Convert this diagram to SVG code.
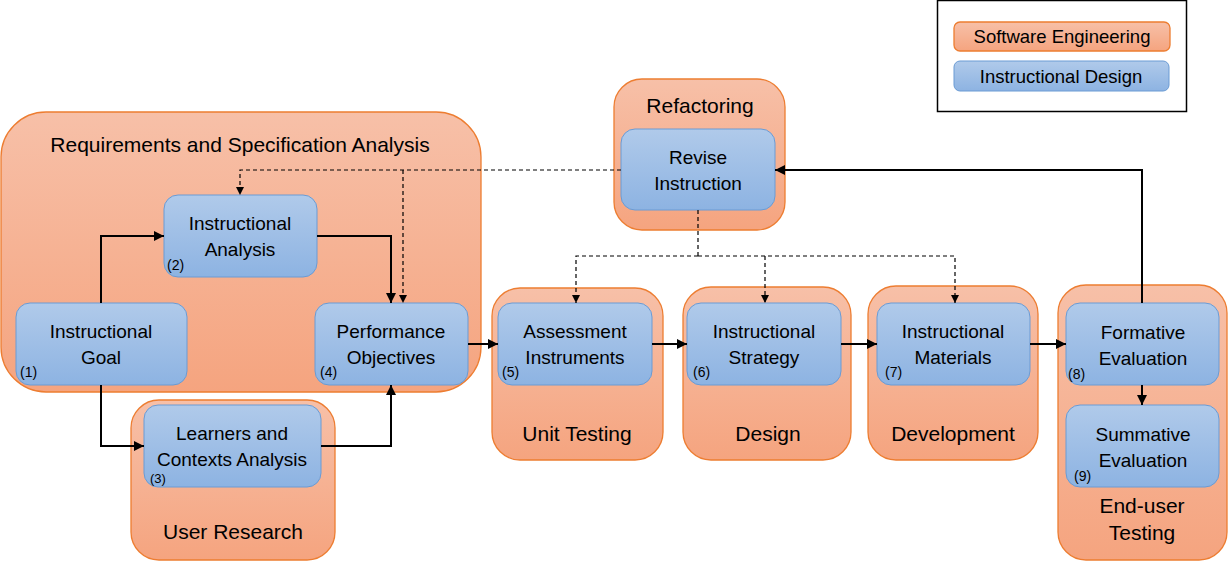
<svg xmlns="http://www.w3.org/2000/svg" width="1229" height="561" viewBox="0 0 1229 561">
<defs>
<linearGradient id="og" x1="0" y1="0" x2="0" y2="1"><stop offset="0" stop-color="#F7C0A8"/><stop offset="1" stop-color="#F5A47F"/></linearGradient>
<linearGradient id="bg" x1="0" y1="0" x2="0" y2="1"><stop offset="0" stop-color="#B0CAEA"/><stop offset="1" stop-color="#8DB3E2"/></linearGradient>
<marker id="ah" viewBox="0 0 10 10" refX="10" refY="5" markerWidth="10" markerHeight="10" markerUnits="userSpaceOnUse" orient="auto"><path d="M0,0 L10,5 L0,10 z" fill="#000"/></marker>
<marker id="ahs" viewBox="0 0 10 10" refX="10" refY="5" markerWidth="8" markerHeight="8" markerUnits="userSpaceOnUse" orient="auto"><path d="M0,0 L10,5 L0,10 z" fill="#000"/></marker>
</defs>
<style>
.grp{fill:url(#og);stroke:#ED7D31;stroke-width:1.3}
.nd{fill:url(#bg);stroke:#6A9BD4;stroke-width:1}
text{font-family:"Liberation Sans",Arial,sans-serif;fill:#000}
.t{font-size:19px;text-anchor:middle}
.g{font-size:21px;text-anchor:middle}
.n{font-size:14px}
.lg{font-size:18.5px;text-anchor:middle}
.c{fill:none;stroke:#000;stroke-width:2;marker-end:url(#ah)}
.d{fill:none;stroke:#000;stroke-width:1.2;stroke-dasharray:4,3;marker-end:url(#ahs)}
.dn{fill:none;stroke:#000;stroke-width:1.2;stroke-dasharray:4,3}
</style>
<g id="legend">
<rect x="937.5" y="0.5" width="249" height="111" fill="#fff" stroke="#000" stroke-width="1.5"/>
<rect x="954" y="22" width="216" height="29" rx="6" class="grp"/>
<text x="1062" y="43" class="lg">Software Engineering</text>
<rect x="954" y="61" width="215" height="30" rx="6" class="nd"/>
<text x="1061" y="83" class="lg">Instructional Design</text>
</g>
<g id="g-requirements">
<rect x="1" y="112" width="480" height="280" rx="45" class="grp"/>
<text x="240" y="152" class="g">Requirements and Specification Analysis</text>
</g>
<g id="g-userresearch">
<rect x="131" y="400" width="204" height="160" rx="28" class="grp"/>
<text x="233" y="539" class="g">User Research</text>
</g>
<g id="g-refactoring">
<rect x="614" y="79" width="171" height="151" rx="28" class="grp"/>
<text x="700" y="113" class="g">Refactoring</text>
</g>
<g id="g-unittesting">
<rect x="492" y="288" width="171" height="172" rx="28" class="grp"/>
<text x="577" y="441" class="g">Unit Testing</text>
</g>
<g id="g-design">
<rect x="683" y="287" width="168" height="173" rx="28" class="grp"/>
<text x="768" y="441" class="g">Design</text>
</g>
<g id="g-development">
<rect x="868" y="286" width="170" height="174" rx="28" class="grp"/>
<text x="953" y="441" class="g">Development</text>
</g>
<g id="g-enduser">
<rect x="1058" y="285" width="169" height="275" rx="28" class="grp"/>
<text x="1142" y="513" class="g">End-user</text>
<text x="1142" y="540" class="g">Testing</text>
</g>
<g id="n1">
<rect x="16" y="303" width="171" height="82" rx="14" class="nd"/>
<text x="101" y="338" class="t">Instructional</text>
<text x="101" y="364" class="t">Goal</text>
<text x="20" y="377" class="n">(1)</text>
</g>
<g id="n2">
<rect x="164" y="195" width="153" height="82" rx="14" class="nd"/>
<text x="240" y="230" class="t">Instructional</text>
<text x="240" y="256" class="t">Analysis</text>
<text x="167" y="270" class="n">(2)</text>
</g>
<g id="n3">
<rect x="144" y="405" width="177" height="82" rx="14" class="nd"/>
<text x="232" y="440" class="t">Learners and</text>
<text x="232" y="466" class="t">Contexts Analysis</text>
<text x="150" y="483" class="n" style="font-size:13px">(3)</text>
</g>
<g id="n4">
<rect x="315" y="303" width="153" height="82" rx="14" class="nd"/>
<text x="391" y="338" class="t">Performance</text>
<text x="391" y="364" class="t">Objectives</text>
<text x="320" y="377" class="n">(4)</text>
</g>
<g id="n-revise">
<rect x="621" y="129" width="154" height="81" rx="14" class="nd"/>
<text x="698" y="164" class="t">Revise</text>
<text x="698" y="190" class="t">Instruction</text>
</g>
<g id="n5">
<rect x="498" y="303" width="154" height="82" rx="14" class="nd"/>
<text x="575" y="338" class="t">Assessment</text>
<text x="575" y="364" class="t">Instruments</text>
<text x="502" y="377" class="n">(5)</text>
</g>
<g id="n6">
<rect x="687" y="303" width="154" height="82" rx="14" class="nd"/>
<text x="764" y="338" class="t">Instructional</text>
<text x="764" y="364" class="t">Strategy</text>
<text x="693" y="377" class="n">(6)</text>
</g>
<g id="n7">
<rect x="877" y="303" width="153" height="82" rx="14" class="nd"/>
<text x="953" y="338" class="t">Instructional</text>
<text x="953" y="364" class="t">Materials</text>
<text x="885" y="377" class="n">(7)</text>
</g>
<g id="n8">
<rect x="1066" y="303" width="153" height="82" rx="14" class="nd"/>
<text x="1143" y="339" class="t">Formative</text>
<text x="1143" y="365" class="t">Evaluation</text>
<text x="1068" y="379" class="n">(8)</text>
</g>
<g id="n9">
<rect x="1066" y="405" width="153" height="82" rx="14" class="nd"/>
<text x="1143" y="441" class="t">Summative</text>
<text x="1143" y="467" class="t">Evaluation</text>
<text x="1074" y="481" class="n">(9)</text>
</g>
<g id="connectors">
<path class="c" d="M101,303 V236 H164"/>
<path class="c" d="M317,236 H391 V303"/>
<path class="c" d="M101,385 V446 H144"/>
<path class="c" d="M321,446 H391 V385"/>
<path class="c" d="M468,344 H498"/>
<path class="c" d="M652,344 H687"/>
<path class="c" d="M841,344 H877"/>
<path class="c" d="M1030,344 H1066"/>
<path class="c" d="M1142,303 V170 H775"/>
<path class="c" d="M1142,385 V405"/>
<path class="d" d="M621,170 H240 V195"/>
<path class="d" d="M403,170 V303"/>
<path class="dn" d="M698,210 V256"/>
<path class="d" d="M698,256 H576 V303"/>
<path class="d" d="M698,256 H955 V303"/>
<path class="d" d="M765,256 V303"/>
</g>
</svg>
